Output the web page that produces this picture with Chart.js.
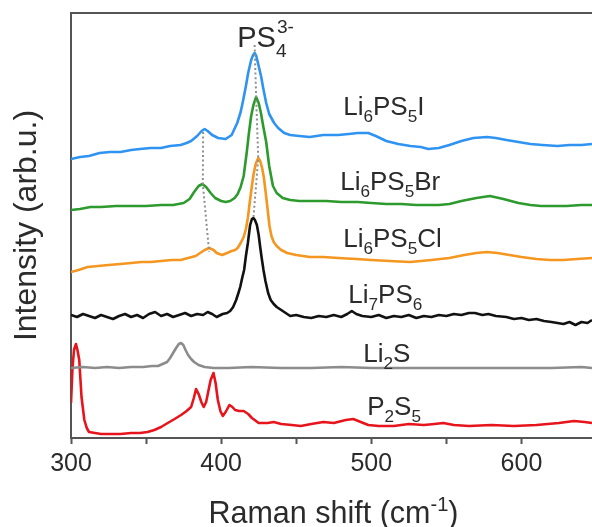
<!DOCTYPE html>
<html>
<head>
<meta charset="utf-8">
<title>Raman spectra</title>
<script src="https://cdn.jsdelivr.net/npm/chart.js@4.4.1/dist/chart.umd.min.js"></script>
<style>
  html, body { margin: 0; padding: 0; background: #fff; }
  #chart { display: block; }
</style>
</head>
<body>
<canvas id="chart" width="592" height="527"></canvas>
<script>
// ===== data (wavenumber in cm-1, intensity in arbitrary offset units) =====
const xTicks = [300, 400, 500, 600];

const wnI = [300,306,312,319,326,333,340,346,353,360,366,373,377,380,384,387,389,391,394,398,403,407,410.7,413,414.7,416.5,418,420,421.3,422.3,423.4,425,426.7,428,430,432,435.3,438,442,446,452,459,468,478,485,491,498,503,510,518,526,533,538,545,552,560,568,577,583,590,598,606,614,624,632,640,647];
const intI = [279,281,282,285,286,286,288,289,290,290,292,293,295,297,302,307,309,307,303,300,299,303,315,326,338,352,365,378,383,385,382,372,361,350,335,324,315,310,305,303,302,301,303,303,304,305,305,302,297,294,292,291,289,290,293,297,300,301,300,298,296,294,293,292,293,293,294];

const wnBr = [300,306,313,320,330,340,350,360,368,375,379,382,385,387.5,390,393,396,400,403,406,409,411,413,415,417,418.5,420,421.5,423.3,425,426.5,428,430,432,434.5,437,441,446,452,460,470,480,491,500,510,520,530,537,545,552,560,570,579,588,598,606,613,622,630,640,647];
const intBr = [228,229,231,231,232,232,232,233,233,235,239,246,252,254,251,245,240,237,236,237,240,244,251,262,285,305,322,333,341,335,325,312,296,272,252,245,240,238,237,237,237,236,236,235,234,234,233,233,233,234,237,240,242,239,235,233,232,232,232,233,233];

const wnCl = [300,305,311,318,325,333,340,347,353,360,367,373,378,383,386,389,392,395,397,400.7,404,407,409.3,411,413,415,416.5,417.8,419,420.3,421.5,423,424.7,426,427.3,428.5,429.7,431,432.2,433.5,435,437,440,444,450,459,468,478,490,500,512,526,540,552,562,570,577,584,592,600,610,619,628,637,647];
const intCl = [166,168,171,172,173,174,175,176,176,177,178,178,180,182,185,188,190,188,185,183,185,187,188,190,195,201,209,220,235,250,263,274,280,277,270,260,245,228,212,202,196,192,188,185,183,181,181,180,179,178,177,176,178,180,183,185,186,185,183,181,179,178,178,179,180];

const wnLi7 = [300,304,308,312,316,320,324,328,332,336,340,344,348,352,356,360,364,368,372,376,380,384,388,391,394,397,401,404,406,408,410,411.5,412.7,414,415.3,416.5,417.8,419.3,420.5,421.5,422.5,423.8,425,426,427,428.2,429.5,431.3,433,435,437,440,443,446,450,455,460,465,470,475,480,484,487,490,494,500,505,510,515,520,525,530,535,540,545,550,555,560,565,569,574,578,583,590,595,600,605,610,615,620,624,628,632,636,640,644,647];
const intLi7 = [123,121,124,122,120,123,121,119,122,124,121,123,120,124,126,122,124,121,123,125,122,124,123,126,124,121,124,125,127,131,138,145,151,160,168,182,195,213,219,220,218,213,203,191,180,168,157,145,138,134,131,128,125,122,123,121,120,122,121,123,121,124,127,124,122,121,123,120,122,121,123,120,122,121,123,122,124,123,125,125,123,124,122,121,119,120,118,119,117,116,115,114,116,113,116,115,118];

const wnLi2S = [300,308,316,324,332,340,348,354,358,361,364,366,368,370,371.8,373.3,374.8,376.3,378,380,382,385,389,395,405,420,440,460,480,500,520,540,560,580,600,620,640,647];
const intLi2S = [70,71,70,71,70,71,71,72,72,74,76,80,85,90,94,95,93,88,83,79,76,73,71,70,70,71,70,70,71,70,70,70,70,70,70,70,71,70];

const wnP2S5 = [300,301,302,303.3,304.3,305.5,307,308.9,310.5,312,316,320,326,333,340,346,351,355.5,360,364.4,369,373.3,377,380,381.8,383.3,385,386.8,388.4,390,391.5,393,394.9,396.3,397.8,399.5,401.1,403,405.5,407.5,409.3,412,415,418,420.5,425,431,435,440,447,453,460,468,475,483,488,493,498,505,515,525,535,542,548,555,565,580,595,610,625,635,642,647];
const intP2S5 = [35,70,88,94,88,78,41,18,10,6,5,4,4,4,5,5,6,8,11,15,19,23,27,31,40,49,44,36,31,36,47,58,65,55,38,27,22,26,33,31,28,27,27,24,20,15,15,16,14,13,12,14,16,15,18,19,16,13,12,12,14,13,14,15,13,12,13,12,13,15,17,16,15];

// guide lines through the peak positions
const guideMainWn = [422.3, 423.3, 424.7, 421.5];
const guideMainInt = [393, 341, 280, 220];
const guideSideWn = [388, 387.8, 392];
const guideSideInt = [306, 254, 186];

// ===== styling =====
const FONT = "'Liberation Sans', Arial, Helvetica, sans-serif";
const AXIS_COLOR = "#555";
const TEXT_COLOR = "#2b2b2b";

function pts(xs, ys) {
  return xs.map((x, i) => ({ x: x, y: ys[i] }));
}

function spectrum(label, xs, ys, color) {
  return {
    label: label,
    data: pts(xs, ys),
    borderColor: color,
    borderWidth: 2.6,
    pointRadius: 0,
    tension: 0,
    borderJoinStyle: "round",
    order: 2,
  };
}

function guide(xs, ys) {
  return {
    data: pts(xs, ys),
    borderColor: "#8f8f8f",
    borderWidth: 2,
    borderDash: [2, 2.6],
    pointRadius: 0,
    tension: 0,
    order: 0,
  };
}

// text labels beside the curves, anchored in data units (left edge, baseline)
const curveLabels = [
  { x: 481.3, y: 323, parts: [["Li"], ["6", "sub"], ["PS"], ["5", "sub"], ["I"]] },
  { x: 479.3, y: 248, parts: [["Li"], ["6", "sub"], ["PS"], ["5", "sub"], ["Br"]] },
  { x: 481.3, y: 191, parts: [["Li"], ["6", "sub"], ["PS"], ["5", "sub"], ["Cl"]] },
  { x: 484.7, y: 135, parts: [["Li"], ["7", "sub"], ["PS"], ["6", "sub"]] },
  { x: 494.7, y: 76, parts: [["Li"], ["2", "sub"], ["S"]] },
  { x: 497.3, y: 23, parts: [["P"], ["2", "sub"], ["S"], ["5", "sub"]] },
];

function drawRich(ctx, parts, x, y, size, align) {
  const small = size * 0.66;
  const widthOf = (p) => {
    if (p[1] === "stack") {
      ctx.font = `${small}px ${FONT}`;
      return Math.max(ctx.measureText(p[0]).width, ctx.measureText(p[2]).width);
    }
    ctx.font = `${p[1] ? small : size}px ${FONT}`;
    return ctx.measureText(p[0]).width;
  };
  const total = parts.reduce((s, p) => s + widthOf(p), 0);
  let cx = align === "center" ? x - total / 2 : x;
  ctx.textAlign = "left";
  ctx.textBaseline = "alphabetic";
  parts.forEach((p) => {
    const w = widthOf(p);
    if (p[1] === "stack") {
      ctx.font = `${small}px ${FONT}`;
      ctx.fillText(p[0], cx + 1, y - size * 0.47);
      ctx.fillText(p[2], cx, y + size * 0.36);
    } else {
      ctx.font = `${p[1] ? small : size}px ${FONT}`;
      let dy = 0;
      if (p[1] === "sub") dy = size * 0.27;
      if (p[1] === "sup") dy = -size * 0.4;
      ctx.fillText(p[0], cx, y + dy);
    }
    cx += w;
  });
}

const textPlugin = {
  id: "richText",
  afterDatasetsDraw(chart) {
    const { ctx, scales, chartArea } = chart;
    ctx.save();
    ctx.fillStyle = TEXT_COLOR;
    curveLabels.forEach((l) => {
      drawRich(ctx, l.parts, scales.x.getPixelForValue(l.x), scales.y.getPixelForValue(l.y), 26, "left");
    });
    // PS4 3- marker above the main peak
    drawRich(ctx, [["PS"], ["3-", "stack", "4"]], scales.x.getPixelForValue(410.7), scales.y.getPixelForValue(391), 29, "left");
    // x axis title with superscript
    drawRich(ctx, [["Raman shift (cm"], ["-1", "sup"], [")"]], (chartArea.left + chartArea.right) / 2 + 2, 523, 30.5, "center");
    ctx.restore();
  },
};

new Chart(document.getElementById("chart"), {
  type: "line",
  data: {
    datasets: [
      guide(guideMainWn, guideMainInt),
      guide(guideSideWn, guideSideInt),
      spectrum("Li6PS5I", wnI, intI, "#2f93f2"),
      spectrum("Li6PS5Br", wnBr, intBr, "#2c9a2c"),
      spectrum("Li6PS5Cl", wnCl, intCl, "#f4961f"),
      spectrum("Li7PS6", wnLi7, intLi7, "#111111"),
      spectrum("Li2S", wnLi2S, intLi2S, "#8c8c8c"),
      spectrum("P2S5", wnP2S5, intP2S5, "#e8141c"),
    ],
  },
  options: {
    responsive: false,
    animation: false,
    devicePixelRatio: 1,
    layout: { padding: 0 },
    plugins: {
      legend: { display: false },
      tooltip: { enabled: false },
    },
    scales: {
      x: {
        type: "linear",
        position: "bottom",
        min: 300,
        max: 647,
        ticks: {
          stepSize: 50,
          includeBounds: false,
          autoSkip: false,
          maxRotation: 0,
          padding: 5,
          color: TEXT_COLOR,
          font: { family: FONT, size: 25 },
          callback: (v) => (xTicks.includes(v) ? String(v) : ""),
        },
        grid: {
          drawOnChartArea: false,
          drawTicks: true,
          tickLength: 6,
          tickWidth: 2,
          tickColor: AXIS_COLOR,
        },
        border: { display: true, color: AXIS_COLOR, width: 2 },
        title: { display: false },
        afterFit: (s) => { s.height = 89; },
      },
      xTop: {
        type: "linear",
        position: "top",
        min: 300,
        max: 647,
        ticks: { display: false },
        grid: { display: false, drawTicks: false },
        border: { display: true, color: AXIS_COLOR, width: 2 },
        afterFit: (s) => { s.height = 13; },
      },
      y: {
        type: "linear",
        position: "left",
        min: 0,
        max: 425,
        ticks: { display: false },
        grid: { display: false, drawTicks: false },
        border: { display: true, color: AXIS_COLOR, width: 2 },
        title: {
          display: true,
          text: "Intensity (arb.u.)",
          color: TEXT_COLOR,
          font: { family: FONT, size: 32 },
          padding: { top: 8, bottom: 0 },
        },
        afterFit: (s) => { s.width = 71; },
      },
    },
  },
  plugins: [textPlugin],
});
</script>
</body>
</html>
